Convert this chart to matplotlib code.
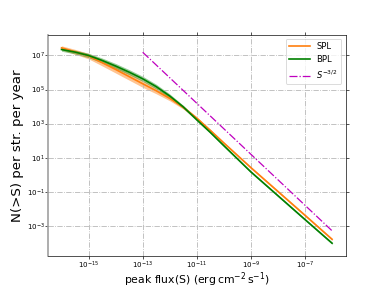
import numpy as np
import matplotlib
matplotlib.use("Agg")
import matplotlib.pyplot as plt
from matplotlib.ticker import NullLocator, FixedLocator, LogFormatterSciNotation

# log10 of peak flux S
log_s = [-16.0, -15.5, -15.0, -14.5, -14.0, -13.5, -13.0, -12.5, -12.0, -11.5,
         -11.0, -10.5, -10.0, -9.0, -8.0, -7.0, -6.0]

# log10 N(>S), single power law (SPL)
spl_mid = [7.45, 7.22, 6.97, 6.58, 6.18, 5.76, 5.34, 4.93, 4.48, 3.95,
           3.32, 2.60, 1.86, 0.41, -0.99, -2.39, -3.80]
spl_lo = [7.33, 7.07, 6.80, 6.39, 5.97, 5.55, 5.13, 4.75, 4.34, 3.85,
          3.25, 2.54, 1.80, 0.35, -1.05, -2.45, -3.86]
spl_hi = [7.57, 7.36, 7.12, 6.76, 6.37, 5.96, 5.54, 5.10, 4.62, 4.05,
          3.39, 2.66, 1.92, 0.47, -0.93, -2.33, -3.74]

# log10 N(>S), broken power law (BPL)
bpl_mid = [7.35, 7.20, 7.00, 6.71, 6.38, 6.02, 5.63, 5.17, 4.62, 3.98,
           3.22, 2.48, 1.70, 0.16, -1.24, -2.64, -4.03]
bpl_lo = [7.25, 7.09, 6.87, 6.57, 6.23, 5.87, 5.48, 5.03, 4.50, 3.89,
          3.15, 2.42, 1.64, 0.10, -1.30, -2.70, -4.09]
bpl_hi = [7.45, 7.31, 7.13, 6.85, 6.53, 6.17, 5.78, 5.31, 4.74, 4.07,
          3.29, 2.54, 1.76, 0.22, -1.18, -2.58, -3.97]

# S^-3/2 reference line end points
ref_s = [1e-13, 1e-6]
ref_n = [1.55e7, 5.0e-4]

xticks = [1e-15, 1e-13, 1e-11, 1e-9, 1e-7]
yticks = [1e-3, 1e-1, 1e1, 1e3, 1e5, 1e7]

S = 10 ** np.array(log_s)
fig, ax = plt.subplots(figsize=(6.4, 4.8), dpi=60)

ax.fill_between(S, 10 ** np.array(spl_lo), 10 ** np.array(spl_hi),
                color="C1", alpha=0.45, lw=0)
ax.plot(S, 10 ** np.array(spl_mid), color="C1", lw=2, label="SPL")
ax.fill_between(S, 10 ** np.array(bpl_lo), 10 ** np.array(bpl_hi),
                color="green", alpha=0.4, lw=0)
ax.plot(S, 10 ** np.array(bpl_mid), color="green", lw=2, label="BPL")
ax.plot(ref_s, ref_n, color="m", ls="-.", lw=1.5, label=r"$S^{-3/2}$")

ax.set_xscale("log")
ax.set_yscale("log")
ax.set_xlim(10 ** -16.5, 10 ** -5.5)
ax.set_ylim(10 ** -4.8, 10 ** 8.23)
ax.xaxis.set_major_locator(FixedLocator(xticks))
ax.yaxis.set_major_locator(FixedLocator(yticks))
ax.xaxis.set_major_formatter(LogFormatterSciNotation())
ax.yaxis.set_major_formatter(LogFormatterSciNotation())
ax.xaxis.set_minor_locator(NullLocator())
ax.yaxis.set_minor_locator(NullLocator())
ax.tick_params(which="both", direction="out", top=True, right=True,
               labelsize=8.5, pad=0.5)

ax.grid(True, which="major", ls="-.", color="#b8b8b8", lw=1)
ax.spines["left"].set_color("#a0a0a0")
ax.spines["left"].set_linewidth(2)

ax.set_xlabel(r"peak flux(S) $(\mathrm{erg\,cm^{-2}\,s^{-1}})$", fontsize=13)
ax.xaxis.set_label_coords(0.5, -0.062)
ax.set_ylabel("N(>S) per str. per year", fontsize=16, labelpad=3)
ax.legend(loc="upper right", fontsize=10, handlelength=2.5)

fig.savefig("out.png", dpi=60)
